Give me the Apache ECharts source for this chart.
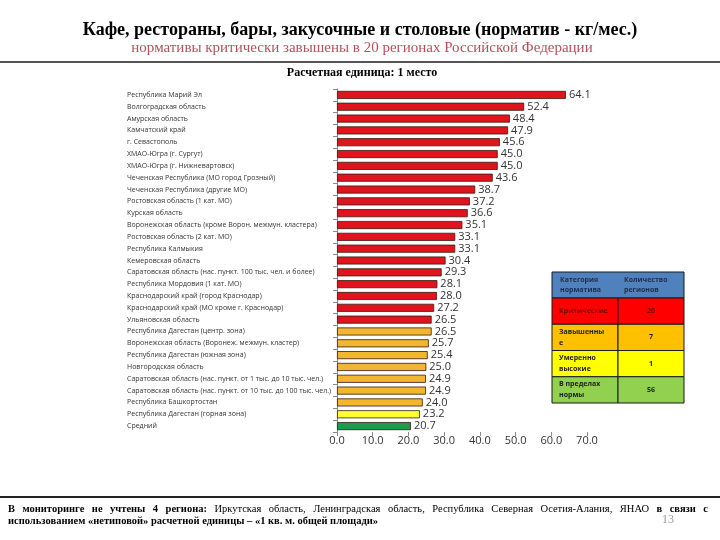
<!DOCTYPE html>
<html><head><meta charset="utf-8">
<script src="https://cdn.jsdelivr.net/npm/echarts@6/dist/echarts.min.js"></script>
<style>html,body{margin:0;padding:0;background:#fff}#c{width:720px;height:540px}</style>
</head><body><div id="c"></div>
<script>
const categories = [
"Республика Марий Эл","Волгоградская область","Амурская область","Камчатский край","г. Севастополь",
"ХМАО-Югра (г. Сургут)","ХМАО-Югра (г. Нижневартовск)","Чеченская Республика (МО город Грозный)",
"Чеченская Республика (другие МО)","Ростовская область (1 кат. МО)","Курская область",
"Воронежская область (кроме Ворон. межмун. кластера)","Ростовская область (2 кат. МО)","Республика Калмыкия",
"Кемеровская область","Саратовская область (нас. пункт. 100 тыс. чел. и более)","Республика Мордовия (1 кат. МО)",
"Краснодарский край (город Краснодар)","Краснодарский край (МО кроме г. Краснодар)","Ульяновская область",
"Республика Дагестан (центр. зона)","Воронежская область (Воронеж. межмун. кластер)","Республика Дагестан (южная зона)",
"Новгородская область","Саратовская область (нас. пункт. от 1 тыс. до 10 тыс. чел.)",
"Саратовская область (нас. пункт. от 10 тыс. до 100 тыс. чел.)","Республика Башкортостан",
"Республика Дагестан (горная зона)","Средний"];
const values = [64.1,52.4,48.4,47.9,45.6,45.0,45.0,43.6,38.7,37.2,36.6,35.1,33.1,33.1,30.4,29.3,28.1,28.0,27.2,26.5,26.5,25.7,25.4,25.0,24.9,24.9,24.0,23.2,20.7];
const levels = ["crit","crit","crit","crit","crit","crit","crit","crit","crit","crit","crit","crit","crit","crit","crit","crit","crit","crit","crit","crit",
"high","high","high","high","high","high","high","mod","avg"];
const xTicks = [0,10,20,30,40,50,60,70];
const tableHeader = ["Категория\nнорматива","Количество\nрегионов"];
const tableRows = [["Критические","20"],["Завышенны\nе","7"],["Умеренно\nвысокие","1"],["В пределах\nнормы","56"]];

const barColors = {crit:"#E0141C",high:"#F2B630",mod:"#FFFF33",avg:"#1E9A4C"};
const rowColors = ["#FF0000","#FFC000","#FFFF00","#92D050"];

const chart = echarts.init(document.getElementById('c'));
const tX = 552, tY = 272, c1 = 66, c2 = 66, hH = 26, rH = 26.25;
const g = [];
g.push({type:'rect',shape:{x:tX,y:tY,width:c1+c2,height:hH},style:{fill:'#4F81BD',stroke:'#1a1a1a',lineWidth:1}});
g.push({type:'text',x:tX+8,y:tY+hH/2,style:{text:tableHeader[0],font:'bold 7px "Open Sans"',fill:'#1F2D50',verticalAlign:'middle',lineHeight:10}});
g.push({type:'text',x:tX+c1+6,y:tY+hH/2,style:{text:tableHeader[1],font:'bold 7px "Open Sans"',fill:'#1F2D50',verticalAlign:'middle',lineHeight:10}});
tableRows.forEach((r,i)=>{
  const y = tY+hH+i*rH;
  g.push({type:'rect',shape:{x:tX,y:y,width:c1,height:rH},style:{fill:rowColors[i],stroke:'#1a1a1a',lineWidth:1}});
  g.push({type:'rect',shape:{x:tX+c1,y:y,width:c2,height:rH},style:{fill:rowColors[i],stroke:'#1a1a1a',lineWidth:1}});
  g.push({type:'text',x:tX+7,y:y+rH/2,style:{text:r[0],font:'bold 7px "Open Sans"',fill:i===0?'#7a0000':'#222',verticalAlign:'middle',lineHeight:11}});
  g.push({type:'text',x:tX+c1+c2/2,y:y+rH/2,style:{text:r[1],font:'bold 7px "Open Sans"',fill:i===0?'#7a0000':'#222',align:'center',verticalAlign:'middle'}});
});
g.push({type:'line',shape:{x1:0,y1:62,x2:720,y2:62},style:{stroke:'#555',lineWidth:2}});
g.push({type:'line',shape:{x1:0,y1:497,x2:720,y2:497},style:{stroke:'#222',lineWidth:2}});
g.push({type:'text',x:360,y:30,style:{text:"Кафе, рестораны, бары, закусочные и столовые (норматив - кг/мес.)",font:'bold 18px "Liberation Serif"',fill:'#000',align:'center',verticalAlign:'middle'}});
g.push({type:'text',x:362,y:48,style:{text:"нормативы критически завышены в 20 регионах Российской Федерации",font:'15px "Liberation Serif"',fill:'#B4505A',align:'center',verticalAlign:'middle'}});
g.push({type:'text',x:362,y:73,style:{text:"Расчетная единица: 1 место",font:'bold 12px "Liberation Serif"',fill:'#000',align:'center',verticalAlign:'middle'}});

// justified first footer line
const fB = 'bold 10.5px "Liberation Serif"', fN = '10.5px "Liberation Serif"';
const line1 = [["В",1],["мониторинге",1],["не",1],["учтены",1],["4",1],["региона:",1],["Иркутская",0],["область,",0],["Ленинградская",0],["область,",0],["Республика",0],["Северная",0],["Осетия-Алания,",0],["ЯНАО",0],["в",1],["связи",1],["с",1]];
const cv = document.createElement('canvas').getContext('2d');
let tot = 0; const ws = line1.map(w=>{cv.font = w[1]?fB:fN; const m = cv.measureText(w[0]).width; tot += m; return m;});
const gap = (708-8-tot)/(line1.length-1);
let cx = 8;
line1.forEach((w,i)=>{ g.push({type:'text',x:cx,y:509,style:{text:w[0],font:w[1]?fB:fN,fill:'#000',verticalAlign:'middle'}}); cx += ws[i]+gap; });
g.push({type:'text',x:8,y:521,style:{text:"использованием «нетиповой» расчетной единицы – «1 кв. м. общей площади»",font:fB,fill:'#000',verticalAlign:'middle'}});
g.push({type:'text',x:668,y:520,style:{text:"13",font:'12px "Liberation Serif"',fill:'#999',align:'center',verticalAlign:'middle'}});

chart.setOption({
  animation:false,
  grid:{left:337,right:133,top:89,bottom:108,containLabel:false},
  xAxis:{type:'value',min:xTicks[0],max:xTicks[xTicks.length-1],interval:10,
    axisLine:{show:false},axisTick:{show:true,length:4,lineStyle:{color:'#888'}},splitLine:{show:false},
    axisLabel:{formatter:v=>v.toFixed(1),fontSize:11,color:'#333',fontFamily:'"Open Sans"',margin:3}},
  yAxis:{type:'category',inverse:true,data:categories,
    axisLine:{show:true,lineStyle:{color:'#888'}},axisTick:{show:true,length:4,lineStyle:{color:'#888'}},
    axisLabel:{align:'left',margin:210,fontSize:7,color:'#333',fontFamily:'"Open Sans"',interval:0}},
  series:[{type:'bar',barWidth:'68%',
    data:values.map((v,i)=>({value:v,itemStyle:{color:barColors[levels[i]],borderColor:'#3a1a10',borderWidth:0.8}})),
    label:{show:true,position:'right',distance:3,formatter:p=>p.value.toFixed(1),fontSize:11,color:'#333',fontFamily:'"Open Sans"'}}],
  graphic:g
});
</script></body></html>
